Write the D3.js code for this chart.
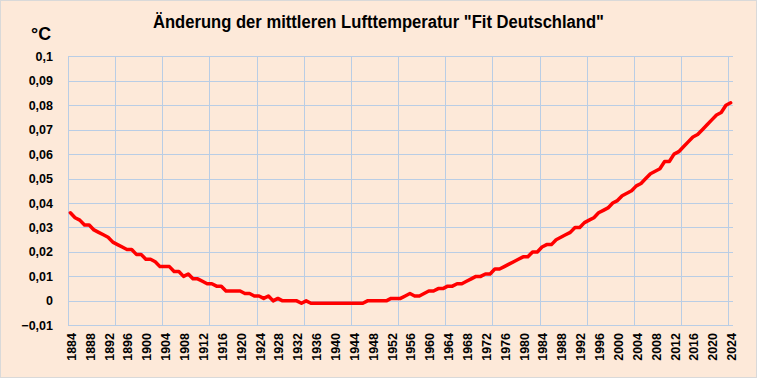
<!DOCTYPE html>
<html>
<head>
<meta charset="utf-8">
<script src="https://cdn.jsdelivr.net/npm/d3@7"></script>
<style>
  body { margin: 0; background: #fff; }
  svg { display: block; }
</style>
</head>
<body>
<svg id="chart" width="757" height="378"></svg>
<script>
// Jahre (Kategorien)
var years = d3.range(1884, 2025);

// Änderung der mittleren Lufttemperatur, Fit Deutschland (°C)
var values = [
  0.036, 0.034, 0.033, 0.031, 0.031, 0.029, 0.028, 0.027, 0.026, 0.024, // 1884-1893
  0.023, 0.022, 0.021, 0.021, 0.019, 0.019, 0.017, 0.017, 0.016, 0.014, // 1894-1903
  0.014, 0.014, 0.012, 0.012, 0.010, 0.011, 0.009, 0.009, 0.008, 0.007, // 1904-1913
  0.007, 0.006, 0.006, 0.004, 0.004, 0.004, 0.004, 0.003, 0.003, 0.002, // 1914-1923
  0.002, 0.001, 0.002, 0.000, 0.001, 0.000, 0.000, 0.000, 0.000, -0.001, // 1924-1933
  0.000, -0.001, -0.001, -0.001, -0.001, -0.001, -0.001, -0.001, -0.001, -0.001, // 1934-1943
  -0.001, -0.001, -0.001, 0.000, 0.000, 0.000, 0.000, 0.000, 0.001, 0.001, // 1944-1953
  0.001, 0.002, 0.003, 0.002, 0.002, 0.003, 0.004, 0.004, 0.005, 0.005, // 1954-1963
  0.006, 0.006, 0.007, 0.007, 0.008, 0.009, 0.010, 0.010, 0.011, 0.011, // 1964-1973
  0.013, 0.013, 0.014, 0.015, 0.016, 0.017, 0.018, 0.018, 0.020, 0.020, // 1974-1983
  0.022, 0.023, 0.023, 0.025, 0.026, 0.027, 0.028, 0.030, 0.030, 0.032, // 1984-1993
  0.033, 0.034, 0.036, 0.037, 0.038, 0.040, 0.041, 0.043, 0.044, 0.045, // 1994-2003
  0.047, 0.048, 0.050, 0.052, 0.053, 0.054, 0.057, 0.057, 0.060, 0.061, // 2004-2013
  0.063, 0.065, 0.067, 0.068, 0.070, 0.072, 0.074, 0.076, 0.077, 0.080, // 2014-2023
  0.081                                                                  // 2024
];

var yTicks = [-0.01, 0, 0.01, 0.02, 0.03, 0.04, 0.05, 0.06, 0.07, 0.08, 0.09, 0.1];
var labelYears = years.filter(function(y) { return (y - 1884) % 4 === 0; });
var gridYears = years.filter(function(y) { return (y - 1884) % 10 === 0; });

var W = 757, H = 378;
var plot = { left: 68, right: 733, top: 56.3, bottom: 325.3 };
var gridColor = '#b9cde5';
var fontBold = '"Liberation Sans", Arial, sans-serif';

var svg = d3.select('#chart');

svg.append('rect')
  .attr('x', 0.5).attr('y', 0.5)
  .attr('width', W - 1).attr('height', H - 1)
  .attr('fill', '#fde9d9')
  .attr('stroke', '#d9d9d9');

var x = d3.scaleBand()
  .domain(years)
  .range([plot.left, plot.right])
  .paddingInner(0).paddingOuter(0);

var y = d3.scaleLinear()
  .domain([-0.01, 0.1])
  .range([plot.bottom, plot.top]);

// horizontal gridlines
svg.append('g')
  .selectAll('line')
  .data(yTicks)
  .join('line')
  .attr('x1', plot.left).attr('x2', plot.right)
  .attr('y1', function(d) { return Math.round(y(d)) + 0.5; })
  .attr('y2', function(d) { return Math.round(y(d)) + 0.5; })
  .attr('stroke', gridColor)
  .attr('stroke-width', 1);

// vertical gridlines (every 10 categories)
svg.append('g')
  .selectAll('line')
  .data(gridYears)
  .join('line')
  .attr('x1', function(d) { return Math.round(x(d)) + 0.5; })
  .attr('x2', function(d) { return Math.round(x(d)) + 0.5; })
  .attr('y1', plot.top).attr('y2', plot.bottom)
  .attr('stroke', gridColor)
  .attr('stroke-width', 1);

// y labels
svg.append('g')
  .selectAll('text')
  .data(yTicks)
  .join('text')
  .attr('x', 53)
  .attr('y', function(d) { return y(d); })
  .attr('dy', '0.36em')
  .attr('text-anchor', 'end')
  .style('font-family', fontBold)
  .style('font-weight', 'bold')
  .style('font-size', '12.5px')
  .style('fill', '#000')
  .text(function(d) { return d3.format('')(+d.toFixed(2)).replace('.', ','); });

// x labels (rotated)
svg.append('g')
  .selectAll('text')
  .data(labelYears)
  .join('text')
  .attr('transform', function(d) {
    return 'translate(' + (x(d) + x.bandwidth() / 2 + 1) + ',333) rotate(-90)';
  })
  .attr('dy', '0.36em')
  .attr('text-anchor', 'end')
  .style('font-family', fontBold)
  .style('font-weight', 'bold')
  .style('font-size', '12.5px')
  .style('fill', '#000')
  .text(function(d) { return d; });

// the curve
var line = d3.line()
  .x(function(d, i) { return x(years[i]) + x.bandwidth() / 2; })
  .y(function(d) { return y(d); });

svg.append('path')
  .datum(values)
  .attr('d', line)
  .attr('fill', 'none')
  .attr('stroke', '#ff0000')
  .attr('stroke-width', 3.5)
  .attr('stroke-linejoin', 'round')
  .attr('stroke-linecap', 'round');

// title (narrowed to the width of the original)
svg.append('text')
  .attr('x', 378.5)
  .attr('y', 28)
  .attr('text-anchor', 'middle')
  .attr('textLength', 451)
  .attr('lengthAdjust', 'spacingAndGlyphs')
  .style('font-family', fontBold)
  .style('font-weight', 'bold')
  .style('font-size', '18px')
  .style('fill', '#000')
  .text('Änderung der mittleren Lufttemperatur "Fit Deutschland"');

svg.append('text')
  .attr('x', 31)
  .attr('y', 40)
  .attr('textLength', 20)
  .attr('lengthAdjust', 'spacingAndGlyphs')
  .style('font-family', fontBold)
  .style('font-weight', 'bold')
  .style('font-size', '18px')
  .style('fill', '#000')
  .text('°C');
</script>
</body>
</html>
